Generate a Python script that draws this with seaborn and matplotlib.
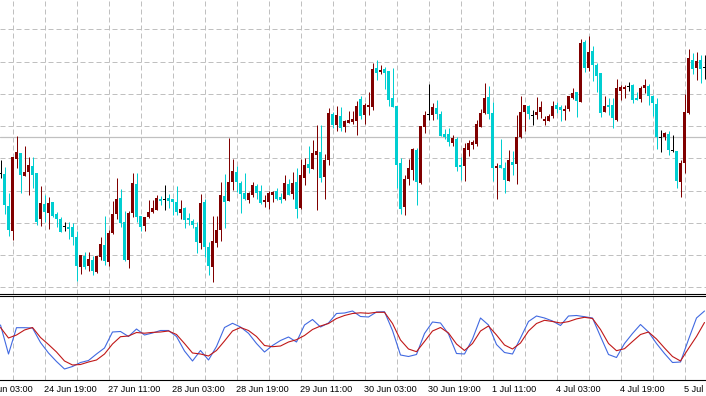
import numpy as np
import pandas as pd
import matplotlib
matplotlib.use('Agg')
import matplotlib.pyplot as plt
import seaborn as sns

# H1 candles, price in chart points (one bar per hour)
opens = [127, 126, 94, 69.3, 141.5, 147, 124.3, 127.7, 134, 127.3,
         80.7, 96, 87.3, 98, 86, 81.3, 73.7, 73, 72.7, 63,
         33.3, 44.3, 34.3, 40.3, 28.3, 42.7, 55, 38.3, 66.7, 86,
         102.3, 78.3, 40, 87, 116, 83.7, 74, 82.7, 87.7, 90,
         101.3, 100.3, 101.7, 101.3, 98, 87, 92, 82.3, 79.3, 73.3,
         57.3, 98, 53.3, 33.3, 57.3, 70, 104, 99.3, 118.3, 128.3,
         117.3, 106.7, 100.3, 105.3, 113.7, 109, 98, 98.3, 105.3, 109,
         103, 101.3, 116, 106.3, 118, 92.3, 122.3, 136, 131.3, 145.3,
         148, 123.3, 140.3, 186, 174.7, 184, 173.3, 177, 178.3, 179.3,
         200.7, 185, 193.3, 193.3, 232.3, 228, 231, 229, 202, 194,
         137, 92.7, 121, 130, 150, 116.7, 172.7, 185.7, 185, 192,
         186, 166, 166, 157, 161.3, 135, 134, 150, 155, 155.7,
         173.3, 187.3, 202.7, 187, 132.3, 135, 132.3, 119.3, 138, 136,
         163, 188.3, 194, 184.3, 185, 188.3, 179.3, 179.3, 184, 195,
         193, 189.3, 191, 202.3, 208, 198.3, 258, 231.7, 249, 235,
         227, 188, 195, 195, 180, 209, 211, 214, 215, 202,
         201, 212, 214, 204, 196, 163, 163, 166, 150, 149,
         118, 137, 187, 240, 232, 240, 233]
highs = [140, 133.3, 107.3, 143.3, 164, 147, 154, 142.7, 142.7, 127.3,
         114, 105, 103, 98, 88.3, 82.7, 78.3, 78, 77.3, 69,
         45, 48, 48, 44.3, 44.3, 63, 84, 70, 99.3, 122.3,
         111, 89.3, 89, 127, 127.3, 83.7, 82.7, 100, 100, 105,
         104, 115, 106, 101.3, 114, 100, 92.7, 87, 81, 78,
         106, 100.7, 58, 83.7, 83.7, 118.3, 126, 162.3, 141, 134,
         119, 126.7, 108.3, 118.3, 116, 115, 104.7, 108.7, 109.3, 112,
         106.7, 125, 121, 128, 132, 141, 142.3, 153.7, 160, 174.7,
         174.7, 146, 191.7, 188.3, 194, 193, 180, 189, 189, 199,
         204, 197, 208, 236.7, 240, 235.3, 233, 229, 232.3, 194,
         141.7, 125, 141, 152.3, 152.3, 174, 189, 216, 196.7, 200,
         189, 171, 172, 165, 163.3, 143.3, 157.3, 160, 160, 180,
         191.3, 217.3, 214, 198.3, 136.7, 161, 137.7, 150, 149, 185,
         204, 195, 195, 190, 203.3, 199, 184, 186, 199, 198.3,
         195, 195, 204, 211.7, 208, 260.7, 260, 264, 254, 237,
         227, 204, 202, 202, 221, 215, 215, 218, 216, 208,
         214, 221, 216, 205, 202, 170, 168, 169, 165, 149,
         140, 206, 251, 247, 248, 245, 245]
lows = [122, 86, 64, 60, 131.7, 107.3, 124, 105.3, 112.3, 75,
        74, 78.3, 71.3, 83, 72.7, 68.3, 69, 60.7, 55, 19,
        26.3, 31.3, 29.3, 25.3, 27.3, 40.3, 35.3, 34.3, 66, 81,
        73.3, 39, 32.3, 83, 78.3, 69, 69, 81.7, 87, 90,
        95, 90, 92.3, 84.7, 84.7, 81.3, 72.3, 75, 72.3, 47.3,
        50.7, 42.7, 25, 18.3, 53.3, 59, 71.7, 99.3, 110, 108.3,
        87.3, 100.3, 97.3, 103.3, 100.7, 95.7, 92.7, 91, 98.3, 100,
        97.3, 100.3, 105.3, 101.3, 82.3, 91.3, 115.3, 127.3, 131.3, 90.3,
        118.3, 101.3, 135, 172.3, 169.3, 169.3, 168.3, 177, 176, 165,
        180.7, 176, 185, 190, 220, 226, 211, 194, 192.7, 112.3,
        85.7, 85, 115.3, 120, 95, 115.7, 166.7, 180, 180, 181,
        164, 160.7, 153.7, 154, 129.3, 120, 119, 144, 150.7, 154.3,
        172.7, 185.7, 180.7, 119.3, 101, 131.7, 106.7, 119.3, 125, 116,
        162.3, 169.3, 180.7, 175, 180.7, 181.7, 175, 179.3, 182.3, 187.3,
        179.3, 180.3, 189.3, 200.7, 183.3, 198.3, 228.3, 229.3, 219, 208,
        183, 188, 185, 172, 179, 200, 202, 209, 197, 200,
        198, 207, 195, 184, 151, 148, 160, 145, 148, 112,
        103.3, 127, 186, 226, 220, 217, 221]
closes = [127, 95, 70, 143, 148, 125, 128.3, 135, 125, 78.3,
          97, 88.3, 97, 84, 81, 68.3, 73.7, 71.3, 63.3, 34.3,
          45, 33.3, 41.3, 29.3, 44.3, 56, 39.3, 66.7, 86, 101,
          76.7, 40, 87.3, 117, 82.7, 73.3, 82.7, 87.7, 91.7, 101.7,
          99, 100.3, 99, 98.3, 88, 91, 80, 79.7, 74.7, 58.3,
          97, 53.3, 34.3, 59, 70, 105, 98.3, 118, 129, 117.7,
          105.7, 101.3, 106.7, 115, 106.7, 96.7, 100, 107, 108, 101.3,
          100.3, 117, 105.3, 117, 91.3, 125, 135, 132.3, 147, 149,
          122.3, 140, 187, 175.3, 185, 172.3, 179, 180.3, 181.3, 194,
          184.3, 195, 195, 231, 226.7, 230, 226.7, 200, 192.7, 135,
          91, 121, 132.3, 151, 118.3, 174, 185, 185.7, 192.7, 186,
          164, 162.7, 158, 162.3, 133.3, 133.3, 152.3, 156.7, 158.3, 175.7,
          187.3, 201.7, 186, 131.7, 134.3, 132.3, 120.3, 140, 135, 163,
          188, 195, 185.7, 184.3, 188.3, 193, 181.3, 184, 194, 190.7,
          190, 191, 204, 207, 199.3, 257.3, 232.3, 248, 235, 224,
          187, 194, 193, 182, 212, 213, 213, 214, 200, 200,
          212, 215, 204, 197, 163, 163, 167, 150, 150, 119,
          137, 188, 242, 231, 239, 231, 233]

# stochastic oscillator, read every second bar
stoch_bars = list(range(0, 177, 2))
stoch_k = [55, 26, 52.3, 52.3, 52, 37.5, 27, 18.5, 11, 13.5,
           17.5, 19.5, 26, 32, 48, 48.5, 43.5, 51, 45, 47,
           49.5, 49.5, 43.5, 29, 19, 29.5, 20, 33.5, 52.5, 56.7,
           53, 46.7, 36.5, 28, 34.5, 39.5, 43, 38, 55, 60.5,
           53, 57, 66.5, 67, 69, 63.5, 63, 68, 68.3, 49.5,
           25, 23.5, 25.5, 46.5, 58, 57, 46, 26.5, 26, 41,
           62, 55, 35.5, 27.5, 26, 42, 58.5, 64, 62, 59,
           54.5, 64, 64.5, 63.3, 62, 43.5, 25.5, 22.5, 36.5, 46.5,
           55.5, 48, 36.5, 26.5, 17.5, 18, 40.5, 62, 69]
stoch_d = [52.5, 42, 45, 50, 52.5, 42.5, 35.5, 28, 19, 15,
           15.5, 18, 20, 26, 36, 43.3, 44, 47.5, 46.8, 47.6,
           48, 49, 45.5, 36.5, 27, 26, 24, 29.5, 39, 49,
           52.5, 49.5, 43.5, 34.5, 33.3, 34, 38, 40.3, 44.5, 50.5,
           54, 56.5, 61.5, 64.5, 66.5, 67.2, 66.7, 67.7, 67.7, 56.5,
           40, 31, 28.3, 38.5, 49, 52.5, 47, 36, 29.5, 36.5,
           49, 54, 45, 35, 31, 37, 49, 56.5, 59.7, 58.5,
           57, 58.4, 61.1, 62.7, 61.5, 50.5, 36.5, 29.3, 31.3, 38.5,
           45.5, 48, 41, 32, 23.5, 19, 31.5, 43.5, 57.5]

time_labels = ['24 Jun 03:00', '24 Jun 19:00', '27 Jun 11:00', '28 Jun 03:00',
               '28 Jun 19:00', '29 Jun 11:00', '30 Jun 03:00', '30 Jun 19:00',
               '1 Jul 11:00', '4 Jul 03:00', '4 Jul 19:00', '5 Jul 11:00']
label_bars = [-5, 11, 27, 43, 59, 75, 91, 107, 123, 139, 155, 171]
grid_bars = list(range(3, 177, 8))
price_grid = [12.7, 45.0, 77.2, 109.5, 141.7, 174.0, 206.2, 238.5, 270.7]
price_level = 163

UP = '#800000'
DOWN = '#00ced1'
DOJI = '#000000'
GRID = '#c0c0c0'

sns.set_style('white')
plt.rcParams['font.family'] = ['Liberation Sans', 'DejaVu Sans']

df = pd.DataFrame({'open': opens, 'high': highs, 'low': lows, 'close': closes})
df['bar'] = np.arange(len(df))
df['color'] = np.where(df.close > df.open, UP, np.where(df.close < df.open, DOWN, DOJI))
flat = df.close == df.open
body_low = np.minimum(df.open, df.close) - np.where(flat, 0.5, 0)
body_h = np.maximum((df.close - df.open).abs(), 1.0)

st = pd.DataFrame({'bar': stoch_bars, 'k': stoch_k, 'd': stoch_d})

H = 396
fig = plt.figure(figsize=(7.06, 3.96), dpi=100)
ax = fig.add_axes([0, (H - 293.5) / H, 1, 293.5 / H])
ax2 = fig.add_axes([0, 16 / H, 1, 84.5 / H])

grid_kw = dict(color=GRID, linestyle=(0, (5, 3)), linewidth=0.72)

# price panel
ax.set_axisbelow(True)
ax.set_xticks(grid_bars)
ax.set_yticks(price_grid)
ax.grid(True, **grid_kw)
ax.axhline(price_level, color=GRID, lw=0.9, zorder=1)
ax.vlines(df.bar, df.low, df.high, colors=df.color, lw=0.72, zorder=2)
ax.bar(df.bar, body_h, bottom=body_low, width=0.75, color=df.color, lw=0, zorder=3)
ax.set_xlim(-0.125, 176.375)
ax.set_ylim(6.5, 300)
ax.tick_params(length=0, labelbottom=False, labelleft=False)
for s in ['top', 'left', 'right']:
    ax.spines[s].set_visible(False)
ax.spines['bottom'].set_color('black')
ax.spines['bottom'].set_linewidth(0.8)

# oscillator panel
ax2.set_axisbelow(True)
sns.lineplot(data=st, x='bar', y='k', ax=ax2, color='#4169e1', lw=0.8, zorder=3)
sns.lineplot(data=st, x='bar', y='d', ax=ax2, color='#c01818', lw=0.8, zorder=4)
ax2.set_xticks(grid_bars)
ax2.set_yticks([])
ax2.grid(True, axis='x', **grid_kw)
ax2.set_xlim(-0.125, 176.375)
ax2.set_ylim(0, 84.5)
ax2.set_xlabel('')
ax2.set_ylabel('')
ax2.tick_params(axis='x', direction='out', length=3, width=0.72, color='black',
                labelbottom=False)
for s in ['left', 'right']:
    ax2.spines[s].set_visible(False)
for s in ['top', 'bottom']:
    ax2.spines[s].set_color('black')
    ax2.spines[s].set_linewidth(0.8)

for b, lab in zip(label_bars, time_labels):
    ax2.text(b - 0.2, -0.06, lab, transform=ax2.get_xaxis_transform(),
             ha='left', va='top', fontsize=6.6, color='black', clip_on=False)

fig.savefig('out.png', dpi=100)
